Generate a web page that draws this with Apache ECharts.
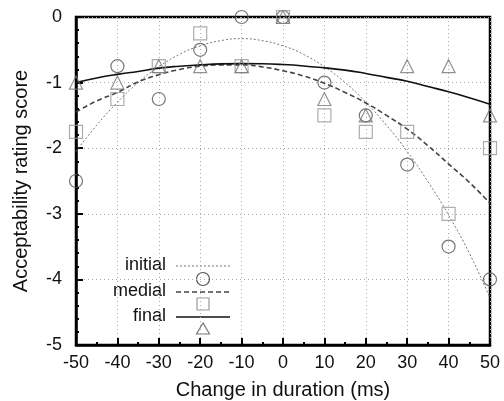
<!DOCTYPE html>
<html>
<head>
<meta charset="utf-8">
<script src="https://cdn.jsdelivr.net/npm/echarts@6/dist/echarts.min.js"></script>
<style>
  html, body { margin: 0; padding: 0; background: #fff; }
  #chart { width: 504px; height: 401px; }
</style>
</head>
<body>
<div id="chart"></div>
<script>
// measured points (acceptability rating per duration change)
const xPoints = [-50, -40, -30, -20, -10, 0, 10, 20, 30, 40, 50];
const initialPts = [-2.5, -0.75, -1.25, -0.5, 0, 0, -1, -1.5, -2.25, -3.5, -4];
const medialPts = [-1.75, -1.25, -0.75, -0.25, -0.75, 0, -1.5, -1.75, -1.75, -3, -2];
const finalPts = [-1, -1, -0.75, -0.75, -0.75, 0, -1.25, -1.5, -0.75, -0.75, -1.5];

// fitted curves, every 5 ms
const xFit = [-50, -45, -40, -35, -30, -25, -20, -15, -10, -5, 0, 5, 10, 15, 20, 25, 30, 35, 40, 45, 50];
const initialFit = [-2.05, -1.65, -1.3, -1.0, -0.76, -0.57, -0.44, -0.36, -0.33, -0.36, -0.44, -0.57, -0.76, -1.0, -1.3, -1.65, -2.05, -2.51, -3.02, -3.6, -4.28];
const medialFit = [-1.45, -1.28, -1.15, -0.99, -0.88, -0.8, -0.75, -0.73, -0.73, -0.76, -0.82, -0.9, -1.01, -1.15, -1.31, -1.5, -1.71, -1.96, -2.24, -2.52, -2.84];
const finalFit = [-1.0, -0.93, -0.875, -0.83, -0.78, -0.75, -0.73, -0.715, -0.71, -0.713, -0.725, -0.746, -0.776, -0.81, -0.86, -0.92, -0.98, -1.06, -1.14, -1.23, -1.33];

const xTicks = [-50, 50, 10];
const yTicks = [-5, 0, 1];

function pairs(xs, ys) {
    return xs.map(function (x, i) {
        return [x, ys[i]];
    });
}

const font = "Liberation Sans, Arial, sans-serif";
const chart = echarts.init(document.getElementById("chart"));

function lineSeries(name, data, type, color, width) {
    return {
        name: name,
        type: "line",
        data: pairs(xFit, data),
        showSymbol: false,
        smooth: true,
        clip: false,
        lineStyle: { type: type, color: color, width: width },
        z: 3,
    };
}

function pointSeries(name, data, symbol, color, size) {
    return {
        name: name + " pts",
        type: "scatter",
        data: pairs(xPoints, data),
        symbol: symbol,
        symbolSize: size,
        clip: false,
        itemStyle: { color: "rgba(255,255,255,0)", borderColor: color, borderWidth: 1.2 },
        z: 5,
    };
}

// hand-made legend: label, line sample, marker below
function legendEntry(label, y, lineType, lineColor, lineWidth, shape) {
    const items = [
        {
            type: "text",
            right: 504 - 166,
            top: y - 10,
            style: { text: label, font: "18px " + font, fill: "#111" },
        },
        {
            type: "line",
            shape: { x1: 176, y1: y, x2: 230, y2: y },
            style: { stroke: lineColor, lineWidth: lineWidth, lineDash: lineType },
        },
    ];
    items.push(shape);
    return items;
}

const legend = [].concat(
    legendEntry("initial", 266, [2, 2], "#777", 1, {
        type: "circle",
        shape: { cx: 203, cy: 279, r: 6.5 },
        style: { fill: "none", stroke: "#555", lineWidth: 1.2 },
    }),
    legendEntry("medial", 292, [5, 3], "#444", 1.5, {
        type: "rect",
        shape: { x: 197, y: 298, width: 12, height: 12 },
        style: { fill: "none", stroke: "#999", lineWidth: 1.2 },
    }),
    legendEntry("final", 317, null, "#111", 1.5, {
        type: "polygon",
        shape: { points: [[203, 323], [196.5, 334], [209.5, 334]] },
        style: { fill: "none", stroke: "#777", lineWidth: 1.2 },
    })
);

const option = {
    animation: false,
    backgroundColor: "#fff",
    grid: {
        left: 76,
        right: 14,
        top: 17,
        bottom: 56,
        outerBoundsMode: "none",
        show: true,
        borderColor: "#000",
        borderWidth: 2.5,
    },
    xAxis: {
        type: "value",
        min: xTicks[0],
        max: xTicks[1],
        interval: xTicks[2],
        name: "Change in duration (ms)",
        nameLocation: "middle",
        nameGap: 35,
        nameTextStyle: { fontFamily: font, fontSize: 20, color: "#111" },
        axisLine: { onZero: false, lineStyle: { color: "#000", width: 2.5 } },
        axisTick: { inside: true, length: 7, lineStyle: { color: "#000", width: 2 } },
        minorTick: { show: true, splitNumber: 2, length: 3, lineStyle: { color: "#000", width: 2 } },
        axisLabel: { fontFamily: font, fontSize: 18, color: "#111", margin: 9 },
        splitLine: { show: true, lineStyle: { type: [1, 3], color: "#aaa", width: 1 } },
    },
    yAxis: {
        type: "value",
        min: yTicks[0],
        max: yTicks[1],
        interval: yTicks[2],
        name: "Acceptability rating score",
        nameLocation: "middle",
        nameGap: 45,
        nameTextStyle: { fontFamily: font, fontSize: 20, color: "#111" },
        axisLine: { show: true, onZero: false, lineStyle: { color: "#000", width: 2.5 } },
        axisTick: { show: true, inside: true, length: 7, lineStyle: { color: "#000", width: 2 } },
        minorTick: { show: true, splitNumber: 5, length: 3, lineStyle: { color: "#000", width: 2 } },
        axisLabel: { fontFamily: font, fontSize: 18, color: "#111", margin: 14 },
        splitLine: { show: true, lineStyle: { type: [1, 3], color: "#aaa", width: 1 } },
    },
    series: [
        lineSeries("initial", initialFit, [2, 2], "#777", 1),
        lineSeries("medial", medialFit, [5, 3], "#444", 1.6),
        lineSeries("final", finalFit, "solid", "#111", 1.6),
        pointSeries("initial", initialPts, "circle", "#555", 13),
        pointSeries("medial", medialPts, "rect", "#999", 13),
        pointSeries("final", finalPts, "triangle", "#777", 13),
    ],
    graphic: legend,
};

chart.setOption(option);
</script>
</body>
</html>
